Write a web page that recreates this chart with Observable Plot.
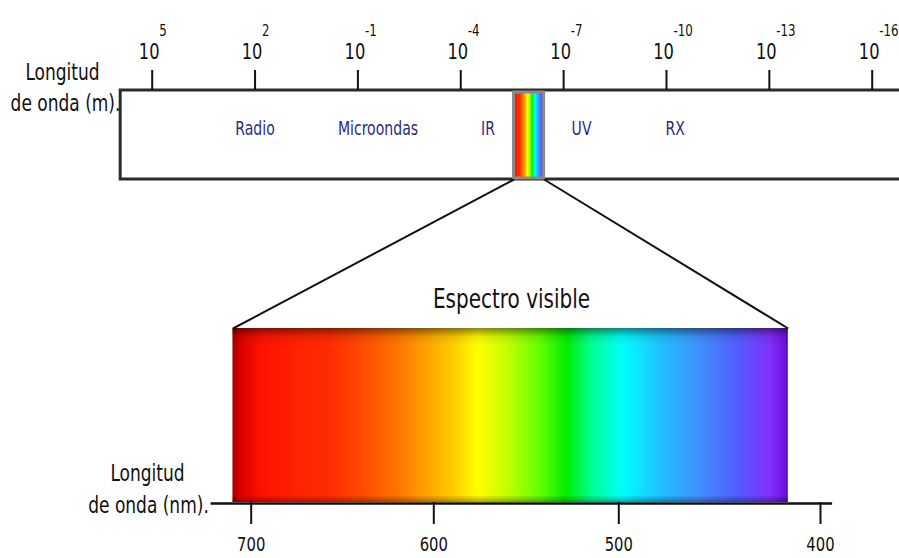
<!DOCTYPE html>
<html><head><meta charset="utf-8">
<script src="https://cdn.jsdelivr.net/npm/d3@7"></script>
<script src="https://cdn.jsdelivr.net/npm/@observablehq/plot@0.6"></script>
<style>
body{margin:0;background:#fff;}
#chart{position:relative;width:899px;height:558px;overflow:hidden;}
#chart svg{position:absolute;left:0;top:0;font-family:'DejaVu Sans',sans-serif;background:transparent;}
</style></head><body><div id="chart"></div>
<script>
// ---------- data ----------
const exponents = [5, 2, -1, -4, -7, -10, -13, -16];          // tick labels 10^e (m)
const bandNames = ["Radio", "Microondas", "IR", "UV", "RX"];
const bandWavelengths = [1e2, 2.6e-2, 1.6e-5, 3e-8, 5.6e-11];    // m, label centres
const bandSpan = [8.3e5, 1e-19];                                 // m, extent of the top bar
const stripRange = [2.8e-6, 3.7e-7];                             // m, schematic visible strip
const nmTicks = [700, 600, 500, 400];
const visibleRange = [710, 416];                                 // nm
const axisRange = [722, 394];                                    // nm
const stopNm = [710, 706, 695, 673, 657, 640, 618, 602, 588, 576, 561, 542, 528, 515, 498, 479, 460, 442, 425, 417, 416];
const stopColor = ["#a00000", "#d80000", "#ff1000", "#ff2400", "#ff2c00", "#ff4800", "#ff7800", "#ffa800", "#ffd000", "#ffff00", "#c8ff00", "#60ff00", "#00ee00", "#00ff90", "#00ffff", "#20c0ff", "#4090ff", "#5060ff", "#8030ff", "#7010e0", "#3000a0"];

// ---------- layout ----------
const W = 899, H = 558;
const yScale = {type: "linear", domain: [0, H], range: [0, H], axis: null};
const L = {barTop: 90, barBottom: 179, tickTop: 70, tenY: 58, expY: 35, bandY: 134,
           specTop: 328, specBottom: 502, tickBottom: 524, nmLabelY: 550, titleY: 307};
const base = {width: W, height: H, margin: 0, style: {background: "transparent", overflow: "visible"}};
const chart = document.getElementById("chart");

// ---------- top: electromagnetic spectrum (log scale, metres) ----------
const topPlot = Plot.plot({
  ...base,
  x: {type: "log", domain: [1e5, 1e-16], range: [151.7, 871.7], axis: null},
  y: yScale,
  marks: [
    Plot.rect([0], {x1: bandSpan[0], x2: bandSpan[1], y1: L.barTop, y2: L.barBottom, fill: "white", stroke: "#2b2b2b", strokeWidth: 3}),
    Plot.rect([0], {x1: stripRange[0], x2: stripRange[1], y1: L.barTop + 2, y2: L.barBottom - 1, fill: "url(#stripGrad)", stroke: "#8a8a8a", strokeWidth: 3}),
    Plot.ruleX(exponents, {x: e => 10 ** e, y1: L.tickTop, y2: L.barTop, stroke: "#111", strokeWidth: 2}),
    Plot.text(exponents, {x: e => 10 ** e, y: L.tenY, text: () => "10", dx: -3, lineAnchor: "bottom", fontSize: 22, fill: "#111"}),
    Plot.text(exponents, {x: e => 10 ** e, y: L.expY, text: e => String(e), dx: 7, textAnchor: "start", lineAnchor: "bottom", fontSize: 16, fill: "#111"}),
    Plot.text(bandNames, {x: (d, i) => bandWavelengths[i], y: L.bandY, text: d => d, lineAnchor: "bottom", fontSize: 19, fill: "#2b2b80"}),
    Plot.text(["Longitud"], {frameAnchor: "left", textAnchor: "middle", dx: 62, y: 79, lineAnchor: "bottom", fontSize: 23, fill: "#111"}),
    Plot.text(["de onda (m)."], {frameAnchor: "left", textAnchor: "middle", dx: 65, y: 110, lineAnchor: "bottom", fontSize: 23, fill: "#111"})
  ]
});
chart.appendChild(topPlot);

// ---------- bottom: visible spectrum (nm) ----------
const bottomPlot = Plot.plot({
  ...base,
  x: {type: "linear", domain: nmTicks, range: [250.7, 433.3, 618.3, 820], axis: null},
  y: yScale,
  marks: [
    Plot.rect([0], {x1: visibleRange[0], x2: visibleRange[1], y1: L.specTop, y2: L.specBottom, fill: "url(#visGrad)"}),
    Plot.rect([0], {x1: visibleRange[0], x2: visibleRange[1], y1: L.specTop, y2: L.specBottom, fill: "url(#shadeGrad)"}),
    Plot.ruleY([L.specBottom + 1], {x1: axisRange[0], x2: axisRange[1], stroke: "#111", strokeWidth: 2.5}),
    Plot.ruleX(nmTicks, {y1: L.specBottom, y2: L.tickBottom, stroke: "#111", strokeWidth: 2}),
    Plot.text(nmTicks, {x: d => d, y: L.nmLabelY, lineAnchor: "bottom", fontSize: 20, fill: "#111"}),
    Plot.text(["Espectro visible"], {x: 558, y: L.titleY, lineAnchor: "bottom", fontSize: 27, fill: "#111"}),
    Plot.text(["Longitud"], {frameAnchor: "left", textAnchor: "middle", dx: 147, y: 480, lineAnchor: "bottom", fontSize: 23, fill: "#111"}),
    Plot.text(["de onda (nm)."], {frameAnchor: "left", textAnchor: "middle", dx: 148, y: 512, lineAnchor: "bottom", fontSize: 23, fill: "#111"})
  ]
});
chart.appendChild(bottomPlot);

// ---------- gradients (stops placed through the scales) ----------
const bx = bottomPlot.scale("x"), tx = topPlot.scale("x");
function addGradient(svg, id, attrs, stops) {
  const defs = d3.select(svg).insert("defs", ":first-child");
  const g = defs.append("linearGradient").attr("id", id);
  for (const [k, v] of Object.entries(attrs)) g.attr(k, v);
  stops.forEach(([o, c, op]) => g.append("stop").attr("offset", o).attr("stop-color", c).attr("stop-opacity", op ?? 1));
}
const p0 = bx.apply(visibleRange[0]), p1 = bx.apply(visibleRange[1]);
addGradient(bottomPlot, "visGrad", {x1: 0, x2: 1, y1: 0, y2: 0},
  stopNm.map((nm, i) => [(bx.apply(nm) - p0) / (p1 - p0), stopColor[i]]));
addGradient(bottomPlot, "shadeGrad", {x1: 0, x2: 0, y1: 0, y2: 1},
  [[0, "#000", 0.45], [0.05, "#000", 0.08], [0.1, "#000", 0], [0.96, "#000", 0], [1, "#000", 0.35]]);
addGradient(topPlot, "stripGrad", {x1: 0, x2: 1, y1: 0, y2: 0},
  stopNm.map((nm, i) => [(visibleRange[0] - nm) / (visibleRange[0] - visibleRange[1]), stopColor[i]]));

// ---------- connecting lines (between the two scales) ----------
const links = [0, 1].map(i => ({x1: tx.apply(stripRange[i]), x2: bx.apply(visibleRange[i])}));
const linkPlot = Plot.plot({
  ...base,
  x: {type: "identity"},
  y: yScale,
  marks: [
    Plot.link(links, {x1: "x1", x2: "x2", y1: L.barBottom, y2: L.specTop, stroke: "#111", strokeWidth: 2})
  ]
});
chart.appendChild(linkPlot);

// ---------- condensed lettering like the original ----------
document.querySelectorAll("#chart svg text").forEach(t => {
  const len = t.getComputedTextLength();
  if (len > 0) {
    t.setAttribute("textLength", (len * 0.74).toFixed(1));
    t.setAttribute("lengthAdjust", "spacingAndGlyphs");
  }
});
</script></body></html>
